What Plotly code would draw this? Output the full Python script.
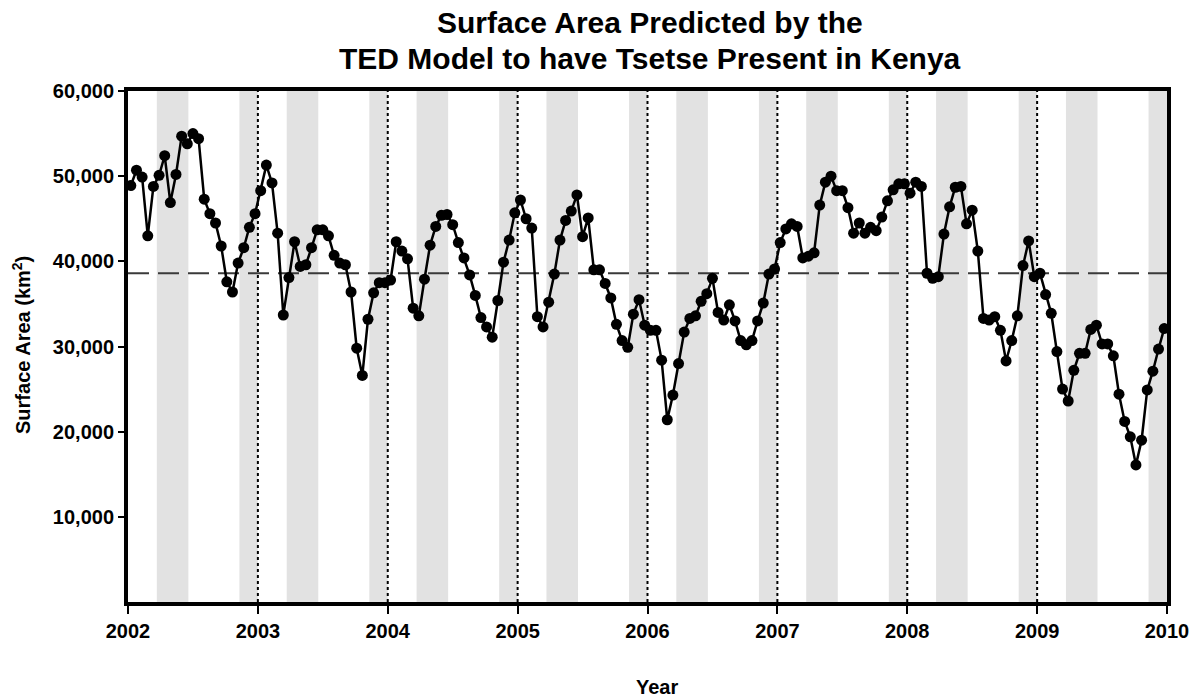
import plotly.graph_objects as go

# 16-day composite estimates of tsetse-suitable area (thousand km^2), 23 per year
area_2002 = [48.9, 50.7, 49.9, 43.0, 48.8, 50.1, 52.4, 46.9, 50.2, 54.7, 53.8, 55.0,
             54.4, 47.3, 45.6, 44.5, 41.8, 37.6, 36.4, 39.8, 41.6, 44.0, 45.6]
area_2003 = [48.3, 51.3, 49.2, 43.3, 33.7, 38.1, 42.3, 39.4, 39.6, 41.6, 43.7, 43.7,
             43.0, 40.7, 39.8, 39.6, 36.4, 29.8, 26.6, 33.2, 36.3, 37.5, 37.5]
area_2004 = [37.8, 42.3, 41.2, 40.3, 34.5, 33.6, 37.9, 41.9, 44.1, 45.4, 45.5, 44.3,
             42.2, 40.4, 38.4, 36.0, 33.4, 32.3, 31.1, 35.4, 39.9, 42.5, 45.7]
area_2005 = [47.2, 45.0, 43.9, 33.5, 32.3, 35.2, 38.5, 42.5, 44.8, 45.9, 47.8, 42.9,
             45.1, 39.0, 39.0, 37.4, 35.7, 32.6, 30.7, 29.9, 33.8, 35.5, 32.5]
area_2006 = [31.9, 31.9, 28.4, 21.4, 24.3, 28.0, 31.7, 33.3, 33.6, 35.3, 36.2, 38.0,
             34.0, 33.1, 34.9, 33.0, 30.7, 30.2, 30.7, 33.0, 35.1, 38.5, 39.1]
area_2007 = [42.2, 43.8, 44.4, 44.1, 40.4, 40.6, 41.0, 46.6, 49.3, 50.0, 48.3, 48.3,
             46.3, 43.3, 44.5, 43.3, 44.0, 43.6, 45.2, 47.1, 48.4, 49.1, 49.1]
area_2008 = [48.0, 49.3, 48.8, 38.6, 38.0, 38.2, 43.2, 46.4, 48.7, 48.8, 44.4, 46.0,
             41.2, 33.3, 33.1, 33.5, 31.9, 28.3, 30.7, 33.6, 39.5, 42.4, 38.2]
area_2009 = [38.6, 36.1, 33.9, 29.4, 25.0, 23.6, 27.2, 29.2, 29.2, 32.0, 32.5, 30.3,
             30.3, 28.9, 24.4, 21.2, 19.4, 16.1, 19.0, 24.9, 27.1, 29.7, 32.1]

years = [2002, 2003, 2004, 2005, 2006, 2007, 2008, 2009]
yearly = [area_2002, area_2003, area_2004, area_2005, area_2006, area_2007, area_2008, area_2009]
periods_per_year = 23

mean_area = 38600  # km^2, dashed reference level

# rainy seasons as fractions of the year: long rains, short rains
long_rains = (0.222, 0.465)
short_rains = (0.858, 1.0)

y_ticks = [10000, 20000, 30000, 40000, 50000, 60000]
y_tick_text = ["10,000", "20,000", "30,000", "40,000", "50,000", "60,000"]
x_ticks = [2002, 2003, 2004, 2005, 2006, 2007, 2008, 2009, 2010]

title_lines = ["Surface Area Predicted by the", "TED Model to have Tsetse Present in Kenya"]

x_vals, y_vals = [], []
for yr, vals in zip(years, yearly):
    for k, v in enumerate(vals):
        x_vals.append(yr + (k + 0.5) / periods_per_year)
        y_vals.append(v * 1000)

fig = go.Figure()

shapes = []
for yr in years:
    for s, e in (long_rains, short_rains):
        shapes.append(dict(type="rect", xref="x", yref="y", x0=yr + s, x1=yr + e,
                           y0=0, y1=60000, fillcolor="#e2e2e2", line_width=0,
                           layer="below"))
for yr in years[1:]:
    shapes.append(dict(type="line", xref="x", yref="y", x0=yr, x1=yr, y0=0, y1=60000,
                       line=dict(color="black", width=2, dash="dot"), layer="below"))
shapes.append(dict(type="line", xref="x", yref="y", x0=2002, x1=2010,
                   y0=mean_area, y1=mean_area,
                   line=dict(color="#3a3a3a", width=2, dash="21px,9px"), layer="below"))

fig.add_trace(go.Scatter(
    x=x_vals, y=y_vals, mode="lines+markers",
    line=dict(color="black", width=2.5),
    marker=dict(color="black", size=11),
    showlegend=False, hoverinfo="skip"))

font_family = "Liberation Sans, Arial, sans-serif"

annotations = [
    dict(text=f"<b>{title_lines[0]}</b>", xref="paper", yref="paper", x=0.5024, y=1.1344,
         xanchor="center", yanchor="middle", showarrow=False,
         font=dict(family=font_family, size=30, color="black")),
    dict(text=f"<b>{title_lines[1]}</b>", xref="paper", yref="paper", x=0.5024, y=1.0634,
         xanchor="center", yanchor="middle", showarrow=False,
         font=dict(family=font_family, size=30, color="black")),
    dict(text="<b>Surface Area (km<sup>2</sup>)</b>", xref="paper", yref="paper",
         x=-0.102, y=0.503, xanchor="center", yanchor="middle", textangle=-90,
         showarrow=False, font=dict(family=font_family, size=20, color="black")),
    dict(text="<b>Year</b>", xref="paper", yref="paper", x=0.509, y=-0.166,
         xanchor="center", yanchor="middle", showarrow=False,
         font=dict(family=font_family, size=20, color="black")),
]

fig.update_layout(
    width=1197, height=698,
    margin=dict(l=128, r=30, t=91, b=96),
    paper_bgcolor="white", plot_bgcolor="white",
    shapes=shapes, annotations=annotations,
    font=dict(family=font_family, color="black"),
    xaxis=dict(range=[2002, 2010], tickvals=x_ticks,
               ticktext=[f"<b>{t}</b>" for t in x_ticks],
               tickfont=dict(size=20), showgrid=False, zeroline=False,
               showline=True, linecolor="black", linewidth=4, mirror=True,
               ticks="outside", ticklen=8, tickwidth=2, tickcolor="black",
               automargin=False),
    yaxis=dict(range=[0, 60000], tickvals=y_ticks,
               ticktext=[f"<b>{t}</b>" for t in y_tick_text],
               tickfont=dict(size=20), showgrid=False, zeroline=False,
               showline=True, linecolor="black", linewidth=4, mirror=True,
               ticks="outside", ticklen=6, tickwidth=2, tickcolor="black",
               automargin=False),
)

fig.write_html("out.html")
